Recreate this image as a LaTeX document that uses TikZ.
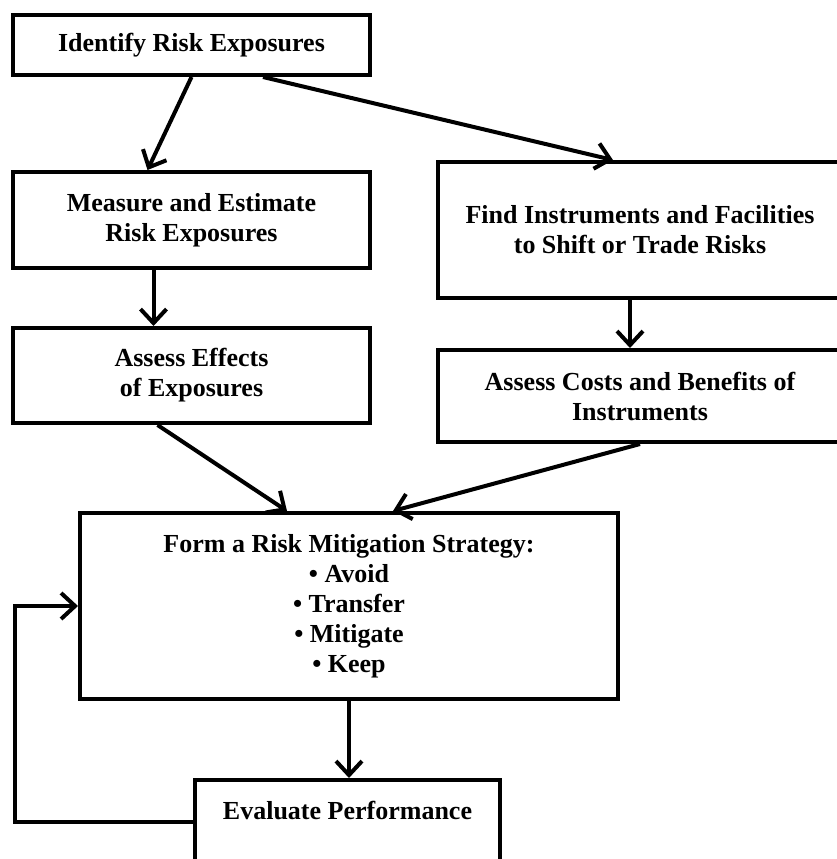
\documentclass[tikz,border=0pt]{standalone}
\usepackage{fontspec}
\setmainfont{Liberation Serif}
\usetikzlibrary{arrows.meta,positioning,calc}

\tikzset{
  stepbox/.style={draw, line width=2pt, align=center, inner sep=0pt,
    font=\fontsize{13}{15}\selectfont\bfseries},
  flow/.style={line width=2pt, -{Straight Barb[length=7pt,width=13pt,line width=2pt]}}
}

\begin{document}
\begin{tikzpicture}[x=0.5pt,y=-0.5pt]
  \useasboundingbox (0,0) rectangle (837,859);

  % Left column
  \node[stepbox, minimum width=178.5pt, minimum height=30pt] (identify) at (191.5,45) {Identify Risk Exposures};
  \node[stepbox, minimum width=178.5pt, minimum height=48pt] (measure) at (191.5,220) {Measure and Estimate\\Risk Exposures};
  \node[stepbox, minimum width=178.5pt, minimum height=47.5pt] (effects) at (191.5,375.5) {Assess Effects\\of Exposures};

  % Right column
  \node[stepbox, minimum width=202pt, minimum height=68pt] (find) at (640,230) {Find Instruments and Facilities\\to Shift or Trade Risks};
  \node[stepbox, minimum width=202pt, minimum height=46pt] (costs) at (640,396) {Assess Costs and Benefits of\\Instruments};

  % Strategy and evaluation
  \node[stepbox, minimum width=269pt, minimum height=93pt] (strategy) at (349,606) {Form a Risk Mitigation Strategy:\\\textbullet{} Avoid\\\textbullet{} Transfer\\\textbullet{} Mitigate\\\textbullet{} Keep};
  \node[stepbox, minimum width=152.5pt, minimum height=42pt] (eval) at (347.5,822) {Evaluate Performance\\[-8pt]\strut};

  % Arrows
  \draw[flow] (identify.south) -- ([xshift=-22pt]measure.north);
  \draw[flow] ([xshift=35.75pt]identify.south) -- ([xshift=-13.5pt]find.north);
  \draw[flow] ([xshift=-19pt]measure.south) -- ([xshift=-19pt]effects.north);
  \draw[flow] ([xshift=-5pt]find.south) -- ([xshift=-5pt]costs.north);
  \draw[flow] ([xshift=-17pt]effects.south) -- ([xshift=-31pt]strategy.north);
  \draw[flow] (costs.south) -- ([xshift=22pt]strategy.north);
  \draw[flow] (strategy.south) -- (strategy.south |- eval.north);
  \draw[flow] (eval.west) -- ++(-178,0) |- (strategy.west);
\end{tikzpicture}
\end{document}
